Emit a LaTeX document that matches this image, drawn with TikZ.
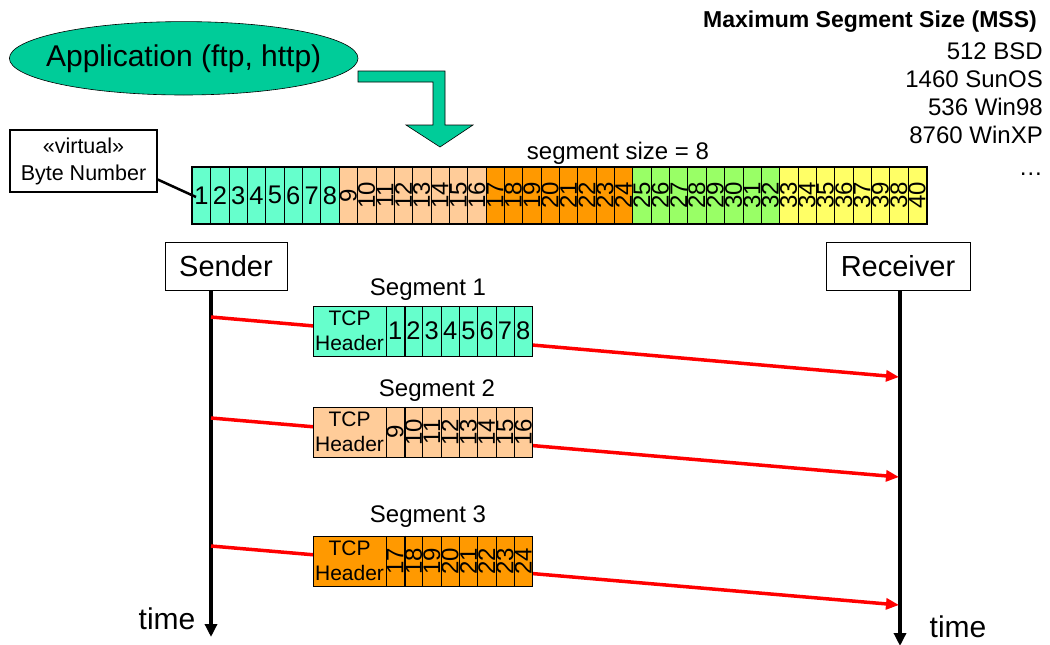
\documentclass[tikz,border=0pt]{standalone}
\usepackage{fontspec}
\setmainfont{Liberation Sans}
\usetikzlibrary{shapes.geometric,arrows.meta}
\definecolor{aqua}{RGB}{102,255,204}
\definecolor{peach}{RGB}{255,204,153}
\definecolor{dorange}{RGB}{255,153,0}
\definecolor{lgreen}{RGB}{153,255,102}
\definecolor{lyellow}{RGB}{255,255,102}
\definecolor{appgreen}{RGB}{0,204,153}
\definecolor{linered}{RGB}{255,0,0}
\newcommand{\myNumFont}{\fontsize{24pt}{24pt}\selectfont}
\newcommand{\myDigFont}{\fontsize{25.5pt}{26pt}\selectfont}
\newcommand{\myBigFont}{\fontsize{30pt}{34pt}\selectfont}
\newcommand{\myMidFont}{\fontsize{24pt}{28pt}\selectfont}
\newcommand{\myHdrFont}{\fontsize{21pt}{25pt}\selectfont}
\newcommand{\myBoxFont}{\fontsize{29pt}{33pt}\selectfont}
\newcommand{\myCallFont}{\fontsize{21.5pt}{27pt}\selectfont}
\begin{document}
\begin{tikzpicture}[x=1pt,y=-1pt,
  stripcell/.style={draw, line width=0.7pt, minimum width=18.35pt, minimum height=56pt, inner sep=0pt, anchor=north west, font=\myNumFont},
  segcell/.style={draw, line width=0.7pt, minimum width=18.3pt, minimum height=50pt, inner sep=0pt, anchor=north west, font=\myNumFont},
  hdrcell/.style={draw, line width=0.7pt, minimum width=73pt, minimum height=50pt, inner sep=0pt, anchor=north west, font=\myHdrFont, align=center},
  seglabel/.style={font=\myMidFont, inner sep=0pt},
  actor/.style={draw, line width=0.8pt, fill=white, minimum width=122pt, minimum height=48pt, inner sep=0pt, font=\myBoxFont},
  timeline/.style={line width=4pt, -{Triangle[length=13pt,width=12pt]}},
  msgline/.style={draw=linered, line width=3.5pt, -{Triangle[length=13pt,width=11pt]}},
  msstext/.style={font=\myMidFont, anchor=east, inner sep=0pt},
  timelabel/.style={font=\myBigFont, inner sep=0pt}
]
\useasboundingbox (0,0) rectangle (1050,645);

% Application ellipse
\node[ellipse, draw, line width=0.6pt, fill=appgreen, minimum width=348.6pt, minimum height=73.4pt, inner sep=0pt,
  label={[font=\myBigFont]center:Application (ftp, http)}] (app) at (183.7,58.3) {};

% bent arrow
\filldraw[fill=appgreen, draw=black, line width=0.6pt]
  (358,71) -- (445,71) -- (445,125) -- (473,125) -- (440,147) -- (406,125) -- (433,125) -- (433,82) -- (358,82) -- cycle;

% MSS text
\node[msstext, font=\fontsize{23pt}{27pt}\selectfont\bfseries] (mss) at (1037,22) {Maximum Segment Size (MSS)};
\node[msstext] (m1) at (1043,51) {512 BSD};
\node[msstext] (m2) at (1043,79) {1460 SunOS};
\node[msstext] (m3) at (1043,107) {536 Win98};
\node[msstext] (m4) at (1043,135) {8760 WinXP};
\node[msstext] (m5) at (1043,174) {\dots};

% segment size label
\node[seglabel] (segsize) at (618,153) {segment size = 8};

% byte strip
\foreach \lab [count=\i] in {1,2,3,4,5,6,7,8,9,10,11,12,13,14,15,16,17,18,19,20,21,22,23,24,25,26,27,28,29,30,31,32,33,34,35,36,37,39,38,40} {
  \pgfmathtruncatemacro{\g}{(\i-1)/8}
  \ifcase\g \def\cc{aqua}\or \def\cc{peach}\or \def\cc{dorange}\or \def\cc{lgreen}\else \def\cc{lyellow}\fi
  \ifnum\i<9
    \node[stripcell, fill=\cc, font=\myDigFont] (b\i) at ({192+(\i-1)*18.35},167) {\lab};
  \else
    \node[stripcell, fill=\cc] (b\i) at ({192+(\i-1)*18.35},167) {\rotatebox{90}{\lab}};
  \fi
}
\draw[line width=1.6pt] (b1.north west) rectangle (b40.south east);

% callout
\coordinate (ctip) at (196,197);
\draw[line width=2.5pt] (150,176) -- (ctip);
\node[draw, line width=2pt, fill=white, minimum width=147pt, minimum height=62pt, inner sep=0pt, align=center, font=\myCallFont] (callout) at (83.5,161) {«virtual»\\Byte Number};

% sender / receiver
\node[actor] (sender) at (226,266) {Sender};
\node[actor, minimum width=144pt] (receiver) at (898,266) {Receiver};
\coordinate (sTop) at (211,290);
\coordinate (sBot) at (211,637);
\coordinate (rTop) at (900,290);
\coordinate (rBot) at (900,646);
\draw[timeline] (sTop) -- (sBot);
\draw[timeline] (rTop) -- (rBot);
\node[timelabel] (t1) at (167,619) {time};
\node[timelabel] (t2) at (958,627) {time};

% messages
\coordinate (s1) at (211,317);
\coordinate (r1) at (899,377);
\coordinate (s2) at (211,418);
\coordinate (r2) at (899,477);
\coordinate (s3) at (211,546);
\coordinate (r3) at (899,605);
\draw[msgline] (s1) -- (r1);
\draw[msgline] (s2) -- (r2);
\draw[msgline] (s3) -- (r3);

% Segment 1
\node[seglabel] (l1) at (428,290) {Segment 1};
\node[hdrcell, fill=aqua] (h1) at (312.7,305.7) {TCP\\Header};
\foreach \lab [count=\k] in {1,2,3,4,5,6,7,8} {
  \node[segcell, fill=aqua, font=\myDigFont] (a\k) at ({385.7+(\k-1)*18.3},305.7) {\lab};
}
\draw[line width=1.6pt] (a1.north east) -- (a1.south east);

% Segment 2
\node[seglabel] (l2) at (437,391) {Segment 2};
\node[hdrcell, fill=peach] (h2) at (312.7,406.7) {TCP\\Header};
\foreach \lab [count=\k] in {9,10,11,12,13,14,15,16} {
  \node[segcell, fill=peach] (c\k) at ({385.7+(\k-1)*18.3},406.7) {\rotatebox{90}{\lab}};
}
\draw[line width=1.6pt] (c1.north east) -- (c1.south east);

% Segment 3
\node[seglabel] (l3) at (428,517) {Segment 3};
\node[hdrcell, fill=dorange] (h3) at (312.7,535.7) {TCP\\Header};
\foreach \lab [count=\k] in {17,18,19,20,21,22,23,24} {
  \node[segcell, fill=dorange] (d\k) at ({385.7+(\k-1)*18.3},535.7) {\rotatebox{90}{\lab}};
}
\draw[line width=1.6pt] (d1.north east) -- (d1.south east);

\end{tikzpicture}
\end{document}
